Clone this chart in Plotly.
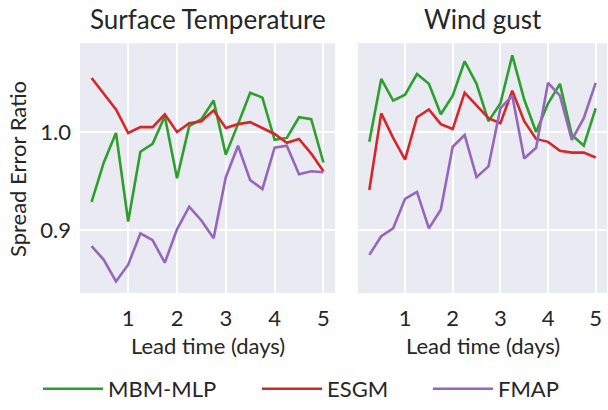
import plotly.graph_objects as go

lead_time = [0.25, 0.5, 0.75, 1.0, 1.25, 1.5, 1.75, 2.0, 2.25, 2.5, 2.75, 3.0,
             3.25, 3.5, 3.75, 4.0, 4.25, 4.5, 4.75, 5.0]

panel_titles = ["Surface Temperature", "Wind gust"]
series_names = ["MBM-MLP", "ESGM", "FMAP"]
series_colors = ["#2ca02c", "#d62728", "#9467bd"]

t2m_mbm = [0.929, 0.969, 0.999, 0.909, 0.980, 0.988, 1.016, 0.953, 1.006, 1.013,
           1.032, 0.977, 1.008, 1.040, 1.035, 0.992, 0.994, 1.015, 1.013, 0.969]
t2m_esgm = [1.055, 1.039, 1.023, 0.999, 1.005, 1.005, 1.018, 1.000, 1.009, 1.011,
            1.022, 1.004, 1.008, 1.010, 1.004, 0.998, 0.989, 0.993, 0.978, 0.960]
t2m_fmap = [0.884, 0.870, 0.848, 0.865, 0.897, 0.890, 0.867, 0.901, 0.924, 0.910,
            0.892, 0.954, 0.986, 0.951, 0.942, 0.984, 0.986, 0.957, 0.960, 0.959]

gust_mbm = [0.990, 1.054, 1.032, 1.038, 1.059, 1.049, 1.018, 1.037, 1.072, 1.049,
            1.011, 1.029, 1.078, 1.033, 1.000, 1.029, 1.049, 0.997, 0.986, 1.024]
gust_esgm = [0.941, 1.019, 0.994, 0.972, 1.015, 1.023, 1.008, 1.003, 1.040, 1.027,
             1.014, 1.009, 1.042, 1.011, 0.993, 0.990, 0.981, 0.979, 0.979, 0.974]
gust_fmap = [0.875, 0.894, 0.902, 0.932, 0.939, 0.902, 0.921, 0.985, 0.997, 0.954,
             0.965, 1.024, 1.037, 0.973, 0.984, 1.050, 1.037, 0.992, 1.014, 1.050]

x_ticks = [1, 2, 3, 4, 5]
y_ticks = [0.9, 1.0]
y_tick_labels = ["0.9", "1.0"]

panels = [[t2m_mbm, t2m_esgm, t2m_fmap], [gust_mbm, gust_esgm, gust_fmap]]

W, H = 608, 410
TXT = "#262626"
FONT = "Lato"
FS = 22
legend_ids = ["legend", "legend2", "legend3"]
legend_left_px = [38, 257, 428]

fig = go.Figure()
for p, data in enumerate(panels):
    xa = "x" if p == 0 else "x2"
    ya = "y" if p == 0 else "y2"
    for s, vals in enumerate(data):
        fig.add_trace(go.Scatter(
            x=lead_time, y=vals, mode="lines", name=series_names[s],
            line=dict(color=series_colors[s], width=2.6),
            xaxis=xa, yaxis=ya, showlegend=(p == 0), legend=legend_ids[s]))

ydom = [1 - 298 / H, 1 - 44 / H]
axis_common = dict(showgrid=True, gridcolor="white", gridwidth=1.6, zeroline=False,
                   showline=False, ticks="", tickfont=dict(family=FONT, size=FS, color=TXT))
layout = dict(
    width=W, height=H,
    margin=dict(l=0, r=0, t=0, b=0),
    paper_bgcolor="white", plot_bgcolor="#EAEAF2",
    font=dict(family=FONT, color=TXT),
    xaxis=dict(domain=[80 / W, 335 / W], range=[0.0125, 5.2375], tickvals=x_ticks,
               anchor="y", ticklabelstandoff=10, **axis_common),
    xaxis2=dict(domain=[358 / W, 607 / W], range=[0.0125, 5.2375], tickvals=x_ticks,
                anchor="y2", ticklabelstandoff=10, **axis_common),
    yaxis=dict(domain=ydom, range=[0.8363, 1.0903], tickvals=y_ticks, ticktext=y_tick_labels,
               anchor="x", ticklabelstandoff=8, **axis_common),
    yaxis2=dict(domain=ydom, range=[0.8363, 1.0903], tickvals=y_ticks, showticklabels=False,
                matches="y", anchor="x2", **axis_common),
)
for lid, lx in zip(legend_ids, legend_left_px):
    layout[lid] = dict(orientation="h", x=lx / W, xanchor="left", y=1 - 396 / H,
                       yanchor="middle", font=dict(family=FONT, size=FS, color=TXT),
                       bgcolor="rgba(0,0,0,0)", itemwidth=60)
fig.update_layout(**layout)

for cx, t in zip([207.5, 482.5], panel_titles):
    fig.add_annotation(text=t, xref="paper", yref="paper", x=cx / W, y=1 - 19 / H,
                       xanchor="center", yanchor="middle", showarrow=False,
                       font=dict(family=FONT, size=26, color=TXT))
for cx in [207.5, 482.5]:
    fig.add_annotation(text="Lead time (days)", xref="paper", yref="paper",
                       x=cx / W, y=1 - 351 / H, xanchor="center", yanchor="middle",
                       showarrow=False, font=dict(family=FONT, size=FS, color=TXT))
fig.add_annotation(text="Spread Error Ratio", xref="paper", yref="paper",
                   x=17 / W, y=1 - 172 / H, xanchor="center", yanchor="middle",
                   textangle=-90, showarrow=False, font=dict(family=FONT, size=FS, color=TXT))

fig.write_html("out.html")
